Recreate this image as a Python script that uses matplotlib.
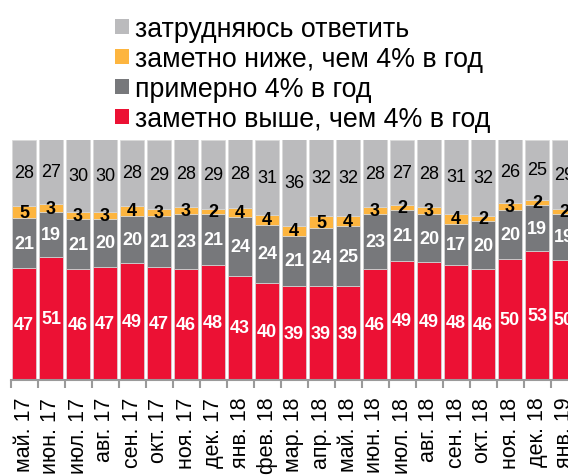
import matplotlib
matplotlib.use("Agg")
import matplotlib.pyplot as plt
from matplotlib.patches import Patch
from matplotlib.ticker import FixedLocator
import numpy as np

plt.rcParams['font.family'] = ['Liberation Sans', 'DejaVu Sans']

categories = ["май. 17", "июн. 17", "июл. 17", "авг. 17", "сен. 17", "окт. 17", "ноя. 17",
              "дек. 17", "янв. 18", "фев. 18", "мар. 18", "апр. 18", "май. 18", "июн. 18",
              "июл. 18", "авг. 18", "сен. 18", "окт. 18", "ноя. 18", "дек. 18", "янв. 19"]
higher = [47, 51, 46, 47, 49, 47, 46, 48, 43, 40, 39, 39, 39, 46, 49, 49, 48, 46, 50, 53, 50]
about = [21, 19, 21, 20, 20, 21, 23, 21, 24, 24, 21, 24, 25, 23, 21, 20, 17, 20, 20, 19, 19]
lower = [5, 3, 3, 3, 4, 3, 3, 2, 4, 4, 4, 5, 4, 3, 2, 3, 4, 2, 3, 2, 2]
unsure = [28, 27, 30, 30, 28, 29, 28, 29, 28, 31, 36, 32, 32, 28, 27, 28, 31, 32, 26, 25, 29]

series_names = ["заметно выше, чем 4% в год", "примерно 4% в год",
                "заметно ниже, чем 4% в год", "затрудняюсь ответить"]
colors = ["#EC1134", "#77787B", "#FDB53F", "#BBBBBD"]
text_colors = ["white", "white", "black", "black"]
weights = ["bold", "bold", "bold", "normal"]

W, H = 568, 477
fig = plt.figure(figsize=(W / 100, H / 100), dpi=100)
ax = fig.add_axes([10.5 / W, 96 / H, 567 / W, 240.5 / H])

data = np.array([higher, about, lower, unsure], dtype=float)
totals = data.sum(axis=0)
pct = data / totals * 100
x = np.arange(len(categories))
bottom = np.zeros(len(categories))
for i in range(4):
    bars = ax.bar(x, pct[i], 0.9, bottom=bottom, color=colors[i],
                  edgecolor="#d8d8d8", linewidth=0.5)
    ax.bar_label(bars, labels=[str(int(v)) for v in data[i]], label_type="center",
                 color=text_colors[i], fontsize=13, fontweight=weights[i])
    bottom += pct[i]

ax.set_xlim(-0.5, len(categories) - 0.5)
ax.set_ylim(0, 100)
ax.set_yticks([])
for s in ["top", "right", "left"]:
    ax.spines[s].set_visible(False)
ax.spines["bottom"].set_color("#9a9a9a")
ax.spines["bottom"].set_linewidth(1.5)
ax.set_xticks(x)
ax.set_xticklabels(categories, rotation=90, fontsize=15.5, va="top")
ax.tick_params(axis="x", which="major", length=0, pad=12)
ax.xaxis.set_minor_locator(FixedLocator(np.arange(-0.5, len(categories), 1.0)))
ax.tick_params(axis="x", which="minor", length=6, width=1.5, color="#9a9a9a")

handles = [Patch(facecolor=colors[i]) for i in [3, 2, 1, 0]]
labels = [series_names[i] for i in [3, 2, 1, 0]]
fig.legend(handles, labels, loc="upper left", bbox_to_anchor=(115 / W, 1 - 17 / H),
           frameon=False, fontsize=19.3, handlelength=0.52, handleheight=0.52,
           handletextpad=0.22, labelspacing=0.15, borderaxespad=0, borderpad=0)

fig.savefig("out.png", dpi=100)
